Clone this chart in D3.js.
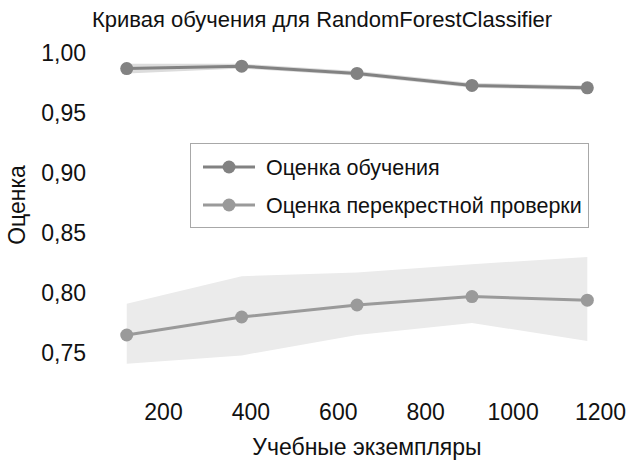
<!DOCTYPE html>
<html><head><meta charset="utf-8">
<script src="https://cdn.jsdelivr.net/npm/d3@7"></script>
<style>body{margin:0;background:#fff}svg{display:block}text{font-family:"Liberation Sans",Arial,sans-serif;fill:#111}</style>
</head><body><svg id="c" width="630" height="463"></svg>
<script>
const trainSizes = [117, 380, 644, 907, 1171];
const trainMean = [0.987, 0.989, 0.983, 0.973, 0.971];
const trainStd  = [0.004, 0.002, 0.002, 0.002, 0.002];
const testMean  = [0.765, 0.780, 0.790, 0.797, 0.794];
const testLow   = [0.741, 0.748, 0.765, 0.775, 0.760];
const testHigh  = [0.791, 0.814, 0.817, 0.824, 0.830];
const xTicks = [200, 400, 600, 800, 1000, 1200];
const yTicks = [0.75, 0.80, 0.85, 0.90, 0.95, 1.00];
const seriesNames = ["Оценка обучения", "Оценка перекрестной проверки"];
const titleText = "Кривая обучения для RandomForestClassifier";
const xLabel = "Учебные экземпляры";
const yLabel = "Оценка";

const FONT = '"Liberation Sans",Arial,sans-serif';
const svg = d3.select("#c");
const x = d3.scaleLinear().domain([200, 1200]).range([163, 600]);
const y = d3.scaleLinear().domain([0.75, 1.0]).range([353, 53]);
const fmt = v => d3.format(".2f")(v).replace(".", ",");

// bands
const area = d3.area().x(d => x(d.s)).y0(d => y(d.lo)).y1(d => y(d.hi));
const trainBand = trainSizes.map((s,i)=>({s, lo: trainMean[i]-trainStd[i], hi: trainMean[i]+trainStd[i]}));
const testBand = trainSizes.map((s,i)=>({s, lo: testLow[i], hi: testHigh[i]}));
svg.append("path").attr("d", area(testBand)).attr("fill", "#ebebeb");
svg.append("path").attr("d", area(trainBand)).attr("fill", "#dcdcdc");

const line = d3.line().x(d => x(d[0])).y(d => y(d[1]));
const series = [
  {vals: trainMean, color: "#828282"},
  {vals: testMean, color: "#9a9a9a"}
];
series.forEach(sr => {
  const pts = trainSizes.map((s,i)=>[s, sr.vals[i]]);
  svg.append("path").attr("d", line(pts)).attr("fill","none").attr("stroke", sr.color).attr("stroke-width", 3);
  svg.selectAll(null).data(pts).enter().append("circle")
    .attr("cx", d=>x(d[0])).attr("cy", d=>y(d[1])).attr("r", 6.5).attr("fill", sr.color);
});

// axes (no spines)
const xAxis = svg.append("g").attr("transform","translate(0,420)")
  .call(d3.axisBottom(x).tickValues(xTicks).tickFormat(d3.format("d")).tickSize(0).tickPadding(0));
xAxis.select(".domain").remove();
xAxis.selectAll("text").attr("font-size", 23).attr("dy","0em").style("font-family",FONT).attr("fill","#111");
const yAxis = svg.append("g").attr("transform","translate(86,0)")
  .call(d3.axisLeft(y).tickValues(yTicks).tickFormat(fmt).tickSize(0).tickPadding(0));
yAxis.select(".domain").remove();
yAxis.selectAll("text").attr("font-size", 23).style("font-family",FONT).attr("fill","#111");

svg.append("text").attr("x", 322).attr("y", 27).attr("text-anchor","middle").attr("font-size", 22).text(titleText);
svg.append("text").attr("x", 367).attr("y", 455).attr("text-anchor","middle").attr("font-size", 23).text(xLabel);
svg.append("text").attr("transform","translate(25,205) rotate(-90)").attr("text-anchor","middle").attr("font-size", 23).text(yLabel);

// legend
const lg = svg.append("g");
lg.append("rect").attr("x", 190.5).attr("y", 143.5).attr("width", 398).attr("height", 84)
  .attr("fill","#fff").attr("stroke","#a8a8a8").attr("stroke-width",1);
series.forEach((sr, i) => {
  const ly = 167 + i*38;
  lg.append("line").attr("x1", 203).attr("x2", 255).attr("y1", ly).attr("y2", ly).attr("stroke", sr.color).attr("stroke-width", 3);
  lg.append("circle").attr("cx", 229).attr("cy", ly).attr("r", 6.5).attr("fill", sr.color);
  lg.append("text").attr("x", 266).attr("y", ly).attr("dy","0.36em").attr("font-size", 21.5).text(seriesNames[i]);
});
</script></body></html>
